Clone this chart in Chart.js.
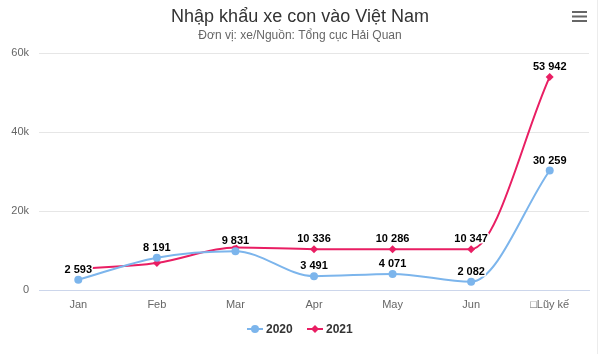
<!DOCTYPE html>
<html>
<head>
<meta charset="utf-8">
<script src="https://cdn.jsdelivr.net/npm/chart.js@4"></script>
<style>
  html, body { margin: 0; padding: 0; background: #fff; }
  #wrap { position: relative; width: 600px; height: 354px; }
</style>
</head>
<body>
<div id="wrap"><canvas id="grafico" width="600" height="354"></canvas></div>
<script>
// Dữ liệu
const categories = ['Jan', 'Feb', 'Mar', 'Apr', 'May', 'Jun', '\u25A1Lũy kế'];
const values2020 = [2593, 8191, 9831, 3491, 4071, 2082, 30259];
const values2021 = [5350, 6850, 10773, 10336, 10286, 10347, 53942];
const yTicks = [0, 20000, 40000, 60000];
const seriesNames = ['2020', '2021'];
const seriesColors = ['#7cb5ec', '#e91e63'];

const FONT = '"Liberation Sans", Arial, sans-serif';

function fmt(v) {
    return String(v).replace(/\B(?=(\d{3})+(?!\d))/g, ' ');
}

// Tiêu đề, nút menu, nhãn dữ liệu và chú thích
const extras = {
    id: 'extras',
    afterDraw(chart) {
        const ctx = chart.ctx;
        ctx.save();
        ctx.textAlign = 'center';
        ctx.textBaseline = 'middle';
        ctx.fillStyle = '#333333';
        ctx.font = '18px ' + FONT;
        ctx.fillText('Nhập khẩu xe con vào Việt Nam', 300, 17);
        ctx.fillStyle = '#666666';
        ctx.font = '12px ' + FONT;
        ctx.fillText('Đơn vị: xe/Nguồn: Tổng cục Hải Quan', 300, 36);

        // menu
        ctx.fillStyle = '#666666';
        [12, 16.5, 21].forEach(y => ctx.fillRect(572, y - 1, 15, 2));

        // khung phải
        ctx.fillStyle = '#ececec';
        ctx.fillRect(597, 0, 1, 354);

        // nhãn dữ liệu
        ctx.font = 'bold 11px ' + FONT;
        ctx.lineJoin = 'round';
        const boxes = [];
        chart.data.datasets.forEach((ds, di) => {
            const meta = chart.getDatasetMeta(di);
            meta.data.forEach((pt, i) => {
                const txt = fmt(ds.data[i]);
                const w = ctx.measureText(txt).width;
                const x = pt.x, y = pt.y - 10;
                const box = { l: x - w / 2 - 2, r: x + w / 2 + 2, t: y - 7, b: y + 7 };
                const hit = boxes.some(b => !(box.r < b.l || box.l > b.r || box.b < b.t || box.t > b.b));
                if (hit) return;
                boxes.push(box);
                ctx.strokeStyle = '#ffffff';
                ctx.lineWidth = 3;
                ctx.strokeText(txt, x, y);
                ctx.fillStyle = '#000000';
                ctx.fillText(txt, x, y);
            });
        });

        // chú thích
        const items = [{ x: 255, tx: 266 }, { x: 315, tx: 326 }];
        items.forEach((it, di) => {
            const c = seriesColors[di];
            ctx.strokeStyle = c;
            ctx.lineWidth = 2;
            ctx.beginPath();
            ctx.moveTo(it.x - 8, 329);
            ctx.lineTo(it.x + 8, 329);
            ctx.stroke();
            ctx.fillStyle = c;
            ctx.beginPath();
            if (di === 0) {
                ctx.arc(it.x, 329, 4, 0, Math.PI * 2);
            } else {
                ctx.moveTo(it.x, 325); ctx.lineTo(it.x + 4, 329);
                ctx.lineTo(it.x, 333); ctx.lineTo(it.x - 4, 329);
                ctx.closePath();
            }
            ctx.fill();
            ctx.fillStyle = '#333333';
            ctx.font = 'bold 12px ' + FONT;
            ctx.textAlign = 'left';
            ctx.fillText(seriesNames[di], it.tx, 330);
        });
        ctx.restore();
    }
};

const ctx = document.getElementById('grafico').getContext('2d');
new Chart(ctx, {
    type: 'line',
    data: {
        labels: categories,
        datasets: [{
            label: seriesNames[0],
            data: values2020,
            borderColor: seriesColors[0],
            backgroundColor: seriesColors[0],
            borderWidth: 2,
            pointStyle: 'circle',
            pointRadius: 4,
            pointBorderWidth: 0,
            cubicInterpolationMode: 'monotone'
        }, {
            label: seriesNames[1],
            data: values2021,
            borderColor: seriesColors[1],
            backgroundColor: seriesColors[1],
            borderWidth: 2,
            pointStyle: 'rectRot',
            pointRadius: 4,
            pointBorderWidth: 0,
            cubicInterpolationMode: 'monotone'
        }]
    },
    options: {
        responsive: false,
        animation: false,
        maintainAspectRatio: false,
        devicePixelRatio: 1,
        layout: { padding: { top: 53, right: 11, left: 0, bottom: 0 } },
        plugins: {
            legend: { display: false },
            title: { display: false },
            tooltip: { enabled: false }
        },
        scales: {
            x: {
                offset: true,
                grid: { display: false, drawTicks: false },
                border: { color: '#ccd6eb', width: 1 },
                ticks: {
                    color: '#666666',
                    font: { family: FONT, size: 11 },
                    padding: 8,
                    maxRotation: 0,
                    autoSkip: false
                },
                afterFit(s) { s.height = 64; }
            },
            y: {
                min: 0,
                max: 60000,
                afterBuildTicks(s) { s.ticks = yTicks.map(v => ({ value: v })); },
                grid: { color: '#e6e6e6', drawTicks: false },
                border: { display: false },
                ticks: {
                    color: '#666666',
                    font: { family: FONT, size: 11 },
                    padding: 10,
                    callback: v => v === 0 ? '0' : (v / 1000) + 'k'
                },
                afterFit(s) { s.width = 39; }
            }
        }
    },
    plugins: [extras]
});
</script>
</body>
</html>
